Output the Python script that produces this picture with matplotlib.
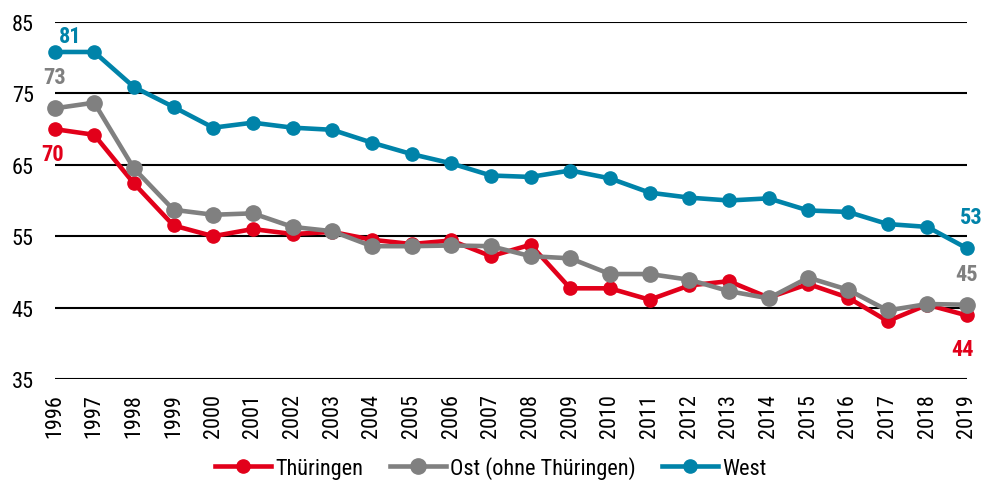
import matplotlib
matplotlib.use("Agg")
import matplotlib.pyplot as plt

years = list(range(1996, 2020))
thueringen = [70.0, 69.2, 62.4, 56.5, 55.0, 56.0, 55.3, 55.6, 54.5, 53.9, 54.4, 52.2,
              53.8, 47.7, 47.7, 46.1, 48.1, 48.7, 46.4, 48.3, 46.4, 43.1, 45.4, 43.9]
ost = [72.9, 73.7, 64.5, 58.7, 58.0, 58.2, 56.3, 55.7, 53.6, 53.6, 53.7, 53.6,
       52.2, 51.9, 49.7, 49.7, 48.9, 47.3, 46.3, 49.2, 47.5, 44.6, 45.5, 45.4]
west = [80.8, 80.8, 75.9, 73.1, 70.2, 70.9, 70.2, 69.9, 68.1, 66.5, 65.2, 63.5,
        63.3, 64.2, 63.1, 61.1, 60.4, 60.0, 60.3, 58.6, 58.4, 56.7, 56.3, 53.3]
series_names = ["Thüringen", "Ost (ohne Thüringen)", "West"]
yticks = [35, 45, 55, 65, 75, 85]

colors = ["#E2001A", "#808080", "#0083A9"]

plt.rcParams['font.family'] = ['Liberation Sans Narrow', 'Roboto Condensed',
                               'Open Sans Condensed', 'Liberation Sans', 'DejaVu Sans']

fig = plt.figure(figsize=(9.82, 4.81), dpi=100)
ax = fig.add_axes([0.0555, 0.21, 0.9292, 0.7422])

ms = [9.5, 11, 9.5]
for data, name, c, m in zip([thueringen, ost, west], series_names, colors, ms):
    ax.plot(years, data, color=c, lw=3.3, marker='o', ms=m, label=name, clip_on=False)

ax.set_xlim(1996, 2019)
ax.set_ylim(35, 85)
ax.set_yticks(yticks)
ax.set_xticks(years)
ax.set_xticklabels([str(y) for y in years], rotation=90)
ax.yaxis.grid(True, color='black', lw=1.5)
ax.set_axisbelow(True)
for s in ax.spines.values():
    s.set_visible(False)
ax.tick_params(axis='y', length=0, pad=15, labelsize=16)
ax.tick_params(axis='x', length=0, pad=10, labelsize=16)

# end labels
lab = dict(fontsize=16, fontweight='bold', ha='center', va='center', annotation_clip=False)
ax.annotate(f"{west[0]:.0f}", (1996.39, 83.0), color=colors[2], **lab)
ax.annotate(f"{ost[0]:.0f}", (1996.0, 77.3), color=colors[1], **lab)
ax.annotate(f"{thueringen[0]:.0f}", (1995.96, 66.5), color=colors[0], **lab)
ax.annotate(f"{west[-1]:.0f}", (2019.1, 57.7), color=colors[2], **lab)
ax.annotate(f"{ost[-1]:.0f}", (2018.98, 49.7), color=colors[1], **lab)
ax.annotate(f"{thueringen[-1]:.0f}", (2018.88, 39.2), color=colors[0], **lab)

fig.legend(loc='lower center', bbox_to_anchor=(0.5, -0.04), ncol=3, frameon=False,
           fontsize=16, handlelength=2.5, handletextpad=0.2, columnspacing=1.2)

fig.savefig("out.png", dpi=100)
